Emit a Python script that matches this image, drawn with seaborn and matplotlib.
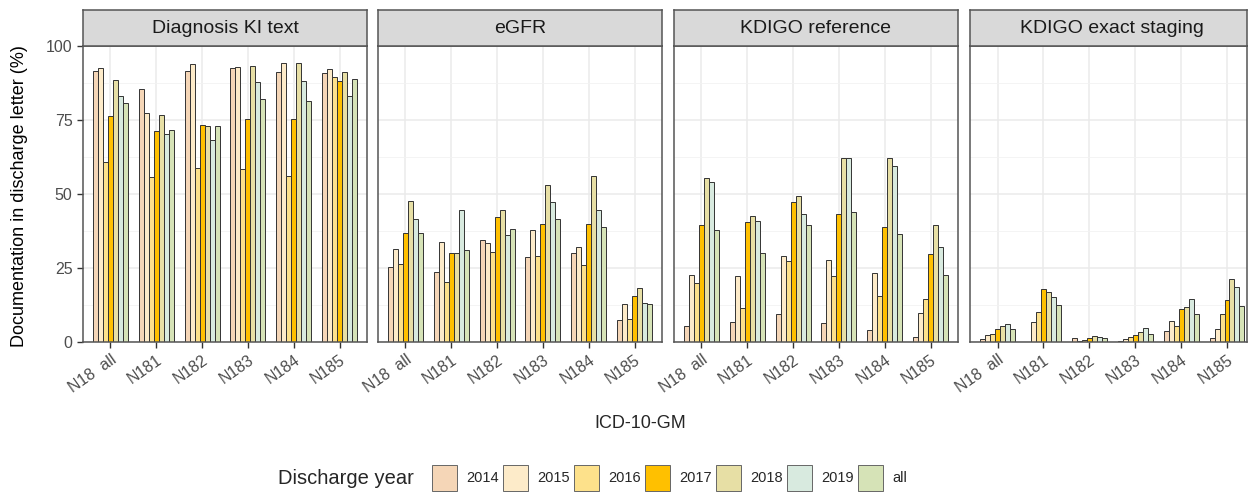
import pandas as pd
import seaborn as sns
import matplotlib.pyplot as plt
from matplotlib.patches import Patch
from matplotlib.ticker import MultipleLocator

sns.set_style("white")
plt.rcParams['font.family'] = ['Liberation Sans', 'DejaVu Sans']

# ---------------- data (percent) ----------------
codes = ["N18  all", "N181", "N182", "N183", "N184", "N185"]
years = ["2014", "2015", "2016", "2017", "2018", "2019", "all"]
panels = ["Diagnosis KI text", "eGFR", "KDIGO reference", "KDIGO exact staging"]

# rows = codes, columns = years
diag_text = [
    [91.6, 92.6, 60.9, 76.2, 88.6, 83.1, 80.9],
    [85.6, 77.2, 55.9, 71.2, 76.6, 70.4, 71.7],
    [91.4, 93.9, 58.7, 73.4, 73.1, 68.3, 73.0],
    [92.6, 93.0, 58.5, 75.2, 93.4, 87.9, 82.1],
    [91.2, 94.2, 56.1, 75.2, 94.2, 88.2, 81.4],
    [90.8, 92.3, 89.4, 88.2, 91.2, 83.1, 89.0],
]
egfr = [
    [25.2, 31.5, 26.4, 36.8, 47.7, 41.6, 36.8],
    [23.5, 33.9, 20.4, 30.0, 30.2, 44.7, 31.1],
    [34.5, 33.4, 30.5, 42.1, 44.6, 36.3, 38.1],
    [28.8, 37.9, 29.2, 40.0, 53.1, 47.2, 41.6],
    [30.2, 32.0, 25.9, 39.7, 56.2, 44.7, 38.9],
    [7.4, 12.7, 7.7, 15.6, 18.2, 13.2, 12.8],
]
kdigo_ref = [
    [5.3, 22.7, 19.8, 39.6, 55.3, 54.0, 37.9],
    [6.9, 22.4, 11.5, 40.6, 42.4, 40.8, 30.0],
    [9.5, 29.2, 27.3, 47.2, 49.3, 43.4, 39.4],
    [6.5, 27.7, 22.4, 43.1, 62.0, 62.2, 44.0],
    [3.9, 23.3, 15.6, 38.7, 62.2, 59.5, 36.5],
    [1.8, 9.8, 14.4, 29.7, 39.5, 32.2, 22.6],
]
kdigo_exact = [
    [1.1, 2.4, 2.8, 4.3, 5.4, 6.0, 4.3],
    [0.0, 6.6, 10.1, 17.9, 16.9, 15.1, 12.4],
    [1.4, 0.2, 0.7, 1.2, 2.1, 1.6, 1.4],
    [0.2, 1.0, 1.7, 2.4, 3.5, 4.7, 2.8],
    [3.7, 7.2, 5.4, 11.2, 11.9, 14.4, 9.4],
    [1.5, 4.4, 9.6, 14.1, 21.4, 18.6, 12.2],
]
values = [diag_text, egfr, kdigo_ref, kdigo_exact]

colors = ["#F5D6B7", "#FDEBC9", "#FDE18B", "#FFC000", "#E7DFA5", "#D8EADF", "#D6E3B7"]
palette = dict(zip(years, colors))

rows = []
for panel, table in zip(panels, values):
    for code, row in zip(codes, table):
        for year, v in zip(years, row):
            rows.append({"panel": panel, "code": code, "year": year, "pct": v})
df = pd.DataFrame(rows)

# ---------------- layout (pixel positions of the reference) ----------------
W, H = 1250, 493
fig = plt.figure(figsize=(W / 100, H / 100), dpi=100)

lefts = [83, 378, 674, 970]
rights = [367, 662, 958, 1247]
top, bottom, strip_top = 46, 342, 10

for i, panel in enumerate(panels):
    l, r = lefts[i], rights[i]
    ax = fig.add_axes([l / W, 1 - bottom / H, (r - l) / W, (bottom - top) / H])
    sns.barplot(data=df[df["panel"] == panel], x="code", y="pct", hue="year",
                order=codes, hue_order=years, palette=palette, width=0.76,
                edgecolor="#333333", linewidth=0.7, saturation=1, legend=False, ax=ax)
    ax.set_ylim(0, 100)
    x_right = 5.6 if i < 3 else 5.0 + (r - 1227) / 45.9
    ax.set_xlim(-0.6, x_right)
    ax.yaxis.set_major_locator(MultipleLocator(25))
    ax.yaxis.set_minor_locator(MultipleLocator(12.5))
    ax.set_axisbelow(True)
    ax.grid(which="major", color="#EBEBEB", lw=1.1)
    ax.grid(which="minor", axis="y", color="#F2F2F2", lw=0.6)
    ax.tick_params(which="minor", length=0)
    ax.tick_params(which="major", direction="out", length=4, width=1, color="#333333",
                   labelcolor="#4D4D4D", labelsize=11.5, bottom=True, left=(i == 0))
    for s in ax.spines.values():
        s.set_color("#555555")
        s.set_linewidth(1.1)
    ax.set_xticks(range(len(codes)))
    ax.set_xticklabels(codes, rotation=35, ha="right", rotation_mode="anchor")
    if i > 0:
        ax.set_yticklabels([])
    ax.set_xlabel("")
    ax.set_ylabel("")

    # facet strip
    sax = fig.add_axes([l / W, 1 - top / H, (r - l) / W, (top - strip_top) / H])
    sax.set_facecolor("#D9D9D9")
    sax.set_xticks([])
    sax.set_yticks([])
    for s in sax.spines.values():
        s.set_color("#555555")
        s.set_linewidth(1.1)
    sax.text(0.5 if i < 3 else 0.5 * 284 / 277, 0.48, panel, ha="center", va="center",
             fontsize=14, color="#1A1A1A", transform=sax.transAxes, clip_on=True)

fig.text(20 / W, 1 - 196 / H, "Documentation in discharge letter (%)", rotation=90,
         ha="center", va="center", fontsize=13, color="black")
fig.text(640 / W, 1 - 423 / H, "ICD-10-GM", ha="center", va="center", fontsize=13)

# legend
fig.text(278 / W, 1 - 479 / H, "Discharge year", ha="left", va="center", fontsize=14.5)
handles = [Patch(facecolor=palette[y], edgecolor="#666666", lw=0.7) for y in years]
fig.legend(handles, years, ncol=7, loc="center left", bbox_to_anchor=(432 / W, 1 - 478 / H),
           frameon=False, fontsize=10.5, handlelength=1.7, handleheight=2.4,
           handletextpad=0.65, columnspacing=0.28, borderpad=0, borderaxespad=0)

fig.savefig("out.png", dpi=100)
